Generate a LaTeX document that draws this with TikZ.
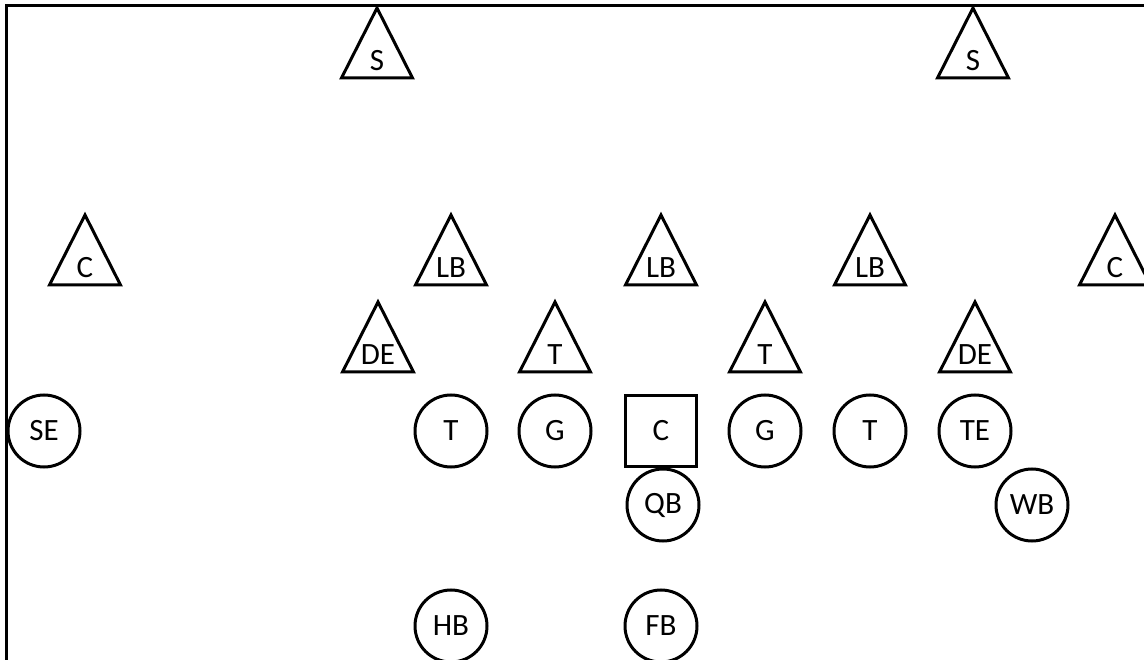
\documentclass[tikz,border=0pt]{standalone}
\usepackage{fontspec}
\setmainfont{Carlito}
\usetikzlibrary{calc}
\tikzset{
  offense/.style={circle, draw=black, line width=3pt, minimum size=72pt,
                  inner sep=0pt, font=\fontsize{31}{31}\selectfont},
  snapper/.style={rectangle, draw=black, line width=3pt, minimum size=71pt,
                  inner sep=0pt, font=\fontsize{31}{31}\selectfont},
  defense/.style={inner sep=0pt, font=\fontsize{31}{31}\selectfont},
  wedge/.style={draw=black, line width=3pt, line join=miter},
}
\begin{document}
\begin{tikzpicture}[x=1pt, y=-1pt]
  \useasboundingbox (0,0) rectangle (1144,660);
  \clip (0,0) rectangle (1144,660);
  % field frame
  \draw[line width=3pt] (6,700) |- (1180,6);

  % defense
  \node[defense] (sfl) at (377,60.5) {S};
  \node[defense] (sfr) at (973,60.5) {S};
  \node[defense] (cbl) at (85,267.5)   {C};
  \node[defense] (lbl) at (451,267.5)  {LB};
  \node[defense] (lbm) at (661,267.5)  {LB};
  \node[defense] (lbr) at (870,267.5)  {LB};
  \node[defense] (cbr) at (1115,267.5) {C};
  \node[defense] (del) at (378,354.5) {DE};
  \node[defense] (dtl) at (555,354.5) {T};
  \node[defense] (dtr) at (765,354.5) {T};
  \node[defense] (der) at (975,354.5) {DE};

  \foreach \d in {sfl,sfr,cbl,lbl,lbm,lbr,cbr,del,dtl,dtr,der}
    \draw[wedge] ($(\d)+(0,-52.5)$) -- ($(\d)+(35.5,17.5)$) -- ($(\d)+(-35.5,17.5)$) -- cycle;

  % offense
  \node[offense] (se) at (44,431)  {SE};
  \node[offense] (lt) at (451,431) {T};
  \node[offense] (lg) at (555,431) {G};
  \node[snapper] (ce) at (661,431) {C};
  \node[offense] (rg) at (765,431) {G};
  \node[offense] (rt) at (870,431) {T};
  \node[offense] (te) at (975,431) {TE};
  \node[offense] (qb) at (663,505) {QB};
  \node[offense] (wb) at (1032,505) {WB};
  \node[offense] (hb) at (451,626) {HB};
  \node[offense] (fb) at (661,626) {FB};
\end{tikzpicture}
\end{document}
